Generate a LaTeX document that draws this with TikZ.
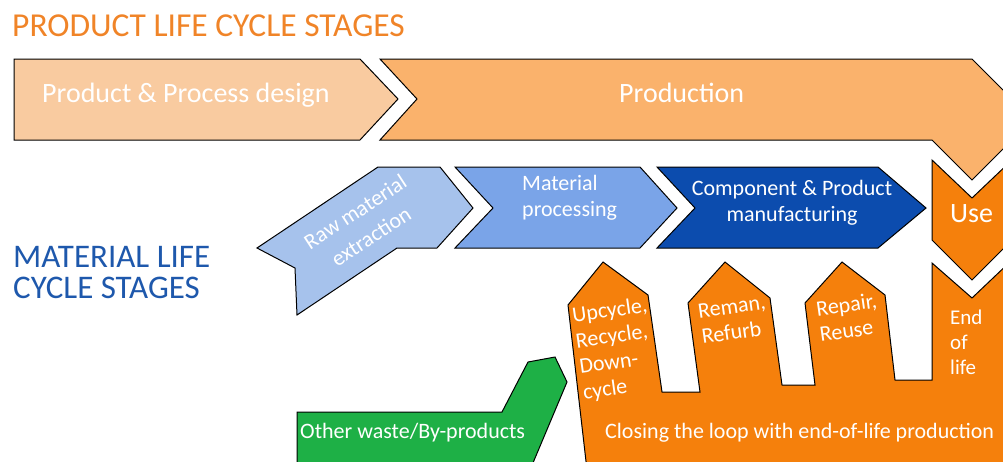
\documentclass[tikz,border=0pt]{standalone}
\usepackage{fontspec}
\setmainfont{Carlito}
\usetikzlibrary{positioning}
\definecolor{titleorange}{RGB}{240,132,40}
\definecolor{matblue}{RGB}{30,88,172}
\definecolor{designfill}{RGB}{249,203,160}
\definecolor{prodfill}{RGB}{250,178,108}
\definecolor{rawfill}{RGB}{166,194,236}
\definecolor{procfill}{RGB}{122,164,232}
\definecolor{compfill}{RGB}{12,76,174}
\definecolor{loopfill}{RGB}{245,128,12}
\definecolor{wastefill}{RGB}{30,176,70}

\begin{document}
\begin{tikzpicture}[x=1pt,y=-1pt,
    shp/.style={draw=black,line width=1pt,line join=miter},
    lbl/.style={text=white,inner sep=0pt,font=\fontsize{22}{26}\selectfont,align=left},
    biglbl/.style={text=white,inner sep=0pt,font=\fontsize{28}{32}\selectfont},
    head/.style={inner sep=0pt,font=\fontsize{33.5}{31}\selectfont,align=left}]
\path[use as bounding box] (0,0) rectangle (1003,461);
\clip (0,0) rectangle (1003,461);

\node[head,text=titleorange,anchor=base west] (title) at (12,36) {PRODUCT LIFE CYCLE STAGES};
\node[head,text=matblue,anchor=north west,font=\fontsize{33}{31}\selectfont] (matlbl) at (13,246) {MATERIAL LIFE\\CYCLE STAGES};

\draw[shp,fill=designfill] (14,59) -- (360,59) -- (398,99) -- (360,140) -- (14,140) -- cycle;
\draw[shp,fill=prodfill] (380,59) -- (972,59) -- (1012,99) -- (1012,140) -- (972,180) -- (932,140) -- (380,140) -- (417,99) -- cycle;
\node[biglbl,anchor=base west] (design) at (42,102) {Product \& Process design};
\node[biglbl,anchor=base west] (prod) at (619,102) {Production};

\draw[shp,fill=rawfill] (257,248) -- (378,167) -- (440,167) -- (473,208) -- (437,248) -- (397,248) -- (297,315) -- (295,268) -- cycle;
\draw[shp,fill=procfill] (455,167) -- (640,167) -- (677,208) -- (640,248) -- (455,248) -- (493,208) -- cycle;
\draw[shp,fill=compfill] (657,167) -- (878,167) -- (926,208) -- (878,248) -- (657,248) -- (695,208) -- cycle;
\draw[shp,fill=loopfill] (932,160) -- (972,198) -- (1012,160) -- (1012,240) -- (972,280) -- (932,240) -- cycle;
\node[lbl,align=center,rotate=33,font=\fontsize{22}{29}\selectfont] (raw) at (363,224) {Raw material\\extraction};
\node[lbl,anchor=north west] (proc) at (522,175) {Material\\processing};
\node[lbl,align=center,anchor=north] (comp) at (792,180) {Component \& Product\\manufacturing};
\node[biglbl,anchor=base west] (use) at (950,222) {Use};

\draw[shp,fill=loopfill] (587,470) -- (568,305) -- (603,262) -- (648,295) -- (662,392) -- (700,392) -- (688,303) -- (725,262) -- (770,298) -- (782,385) -- (815,385) -- (805,303) -- (842,262) -- (885,295) -- (895,380) -- (932,380) -- (932,263) -- (972,298) -- (1012,260) -- (1012,470) -- cycle;
\draw[shp,fill=wastefill] (297,470) -- (297,412) -- (502,412) -- (528,362) -- (555,357) -- (567,382) -- (530,470) -- cycle;
\node[lbl,anchor=north west,rotate=8] (upc) at (571,307) {Upcycle,\\Recycle,\\Down-\\cycle};
\node[lbl,anchor=north west,rotate=8] (reman) at (697,304) {Reman,\\Refurb};
\node[lbl,anchor=north west,rotate=8] (repair) at (815,301) {Repair,\\Reuse};
\node[lbl,anchor=north west,font=\fontsize{21}{25}\selectfont] (eol) at (950,310) {End\\of\\life};
\node[lbl,anchor=base west] (loop) at (605,438) {Closing the loop with end-of-life production};
\node[lbl,anchor=base west] (waste) at (300,438) {Other waste/By-products};
\end{tikzpicture}
\end{document}
